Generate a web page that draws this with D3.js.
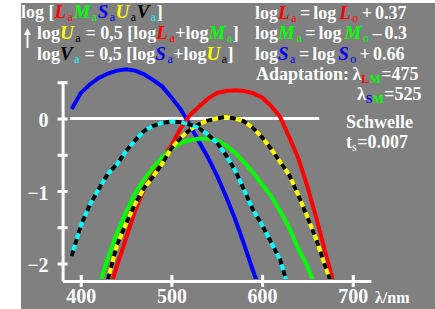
<!DOCTYPE html>
<html>
<head>
<meta charset="utf-8">
<script src="https://cdn.jsdelivr.net/npm/d3@7"></script>
<style>
  body { margin: 0; background: #fff; }
  svg { display: block; font-family: "Liberation Serif", "Times New Roman", serif; font-weight: bold; }
</style>
</head>
<body>
<div id="chart"></div>
<script>
// Wavelengths (nm) and log sensitivities
const wavelengths = [390,400,410,420,430,440,450,460,470,480,490,500,510,520,530,540,550,560,570,580,590,600,610,620,630,640,650,660,670,680];
const logL = [null,null,null,null,-2.44,-2.03,-1.65,-1.27,-0.97,-0.75,-0.56,-0.37,-0.14,0.04,0.16,0.27,0.35,0.38,0.39,0.38,0.35,0.29,0.17,0.02,-0.26,-0.55,-0.94,-1.38,-1.86,-2.33];
const logM = [null,null,null,-2.32,-1.92,-1.58,-1.29,-1.03,-0.84,-0.68,-0.53,-0.42,-0.34,-0.30,-0.28,-0.28,-0.30,-0.37,-0.47,-0.60,-0.75,-0.91,-1.07,-1.28,-1.51,-1.80,-2.04,-2.35,null,null];
const logS = [0.13,0.35,0.47,0.56,0.62,0.66,0.68,0.66,0.61,0.53,0.44,0.29,0.13,-0.08,-0.31,-0.53,-0.78,-1.07,-1.38,-1.73,-2.10,-2.45,null,null,null,null,null,null,null,null];
const logU = [null,null,null,null,-2.22,-1.74,-1.45,-1.18,-0.96,-0.80,-0.62,-0.41,-0.27,-0.16,-0.08,-0.03,0.00,0.02,0.00,-0.04,-0.13,-0.26,-0.42,-0.60,-0.78,-1.06,-1.36,-1.68,-2.05,-2.40];
const logV = [-1.90,-1.48,-1.19,-0.97,-0.76,-0.63,-0.45,-0.30,-0.17,-0.10,-0.06,-0.04,-0.05,-0.08,-0.13,-0.22,-0.33,-0.50,-0.71,-0.98,-1.26,-1.47,-1.71,-1.95,-2.38,null,null,null,null,null];

const xTicks = [400, 500, 600, 700];
const yTicks = [-2, -1.5, -1, -0.5, 0, 0.5];
const yLabels = [-2, -1, 0];

const width = 435, height = 309;

const svg = d3.select('#chart')
    .append('svg')
    .attr('width', width)
    .attr('height', height);

// grey panel
svg.append('rect')
    .attr('x', 21).attr('y', 3)
    .attr('width', width - 21).attr('height', height - 3)
    .attr('fill', '#808080');

const x = d3.scaleLinear().domain([380, 720]).range([62.6, 370.9]);
const y = d3.scaleLinear().domain([-2.24, 0.52]).range([280.9, 80.8]);

svg.append('defs').append('clipPath').attr('id', 'plot')
    .append('rect').attr('x', 62).attr('y', 60).attr('width', 320).attr('height', 219);

// zero line
svg.append('line')
    .attr('x1', x(388)).attr('x2', x(663))
    .attr('y1', y(0)).attr('y2', y(0))
    .attr('stroke', '#fff').attr('stroke-width', 3);

// axes
const xAxis = svg.append('g')
    .attr('transform', `translate(0,${y(-2.24)})`)
    .call(d3.axisBottom(x).tickValues(xTicks).tickSize(6).tickSizeOuter(0).tickFormat(d3.format('d')));
xAxis.selectAll('.tick line').attr('y1', -6).attr('y2', 6);
xAxis.selectAll('.tick text').attr('y', 22).attr('dy', 0);

const yAxis = svg.append('g')
    .attr('transform', `translate(${x(380)},0)`)
    .call(d3.axisLeft(y).tickValues(yTicks).tickSize(5).tickSizeOuter(0)
        .tickFormat(d => yLabels.includes(d) ? (d < 0 ? '\u2212' + Math.abs(d) : d) : ''));
yAxis.selectAll('.tick line').attr('x1', -5).attr('x2', 5);
yAxis.selectAll('.tick text').attr('x', -14).attr('dy', '0.4em');

[xAxis, yAxis].forEach(g => {
    g.select('.domain').attr('stroke', '#fff').attr('stroke-width', 3);
    g.selectAll('.tick line').attr('stroke', '#fff').attr('stroke-width', 3);
    g.selectAll('.tick text')
        .attr('fill', '#fff')
        .style('font-family', '"Liberation Serif", serif')
        .style('font-weight', 'bold')
        .style('font-size', '20px');
});

svg.append('text')
    .attr('x', 375).attr('y', 303)
    .attr('fill', '#fff').style('font-size', '16px')
    .text('\u03bb/nm');

// curves
const line = d3.line()
    .defined(d => d[1] !== null)
    .x(d => x(d[0]))
    .y(d => y(d[1]));

const plot = svg.append('g').attr('clip-path', 'url(#plot)');

function curve(values, color, dashed) {
    const pts = wavelengths.map((w, i) => [w, values[i]]);
    plot.append('path')
        .datum(pts)
        .attr('d', line)
        .attr('fill', 'none')
        .attr('stroke', color)
        .attr('stroke-width', 4);
    if (dashed) {
        plot.append('path')
            .datum(pts)
            .attr('d', line)
            .attr('fill', 'none')
            .attr('stroke', '#000')
            .attr('stroke-width', 4)
            .attr('stroke-dasharray', '6,6');
    }
}

curve(logS, '#0000ff', false);
curve(logL, '#ff0000', false);
curve(logM, '#00ff00', false);
curve(logU, '#ffff00', true);
curve(logV, '#00ffff', true);

// rich text helper: segments of [text, colour, kind]
// kind: 'i' italic capital, 's' subscript, 'sb' bold subscript
function richText(xPos, yPos, segments, spacing) {
    const t = svg.append('text').attr('x', xPos).attr('y', yPos)
        .style('font-size', '18px')
        .style('word-spacing', (spacing || 0) + 'px');
    let shifted = false;
    let prevItalic = false;
    segments.forEach(([txt, color, kind]) => {
        const ts = t.append('tspan').text(txt).attr('fill', color);
        if (kind === 'i') ts.style('font-style', 'italic').style('font-size', '19px');
        if (kind === 's' || kind === 'sb') {
            ts.style('font-size', '12px').style('font-weight', kind === 'sb' ? 'bold' : 'normal');
            if (prevItalic) ts.attr('dx', 1.5);
            if (!shifted) { ts.attr('dy', 3); shifted = true; }
        } else if (shifted) {
            ts.attr('dy', -3).attr('dx', 0.5); shifted = false;
        }
        prevItalic = kind === 'i';
    });
    return t;
}

const W = '#fff', R = '#ff0000', G = '#00ff00', B = '#0000ff', Y = '#ffff00', K = '#000', C = '#00ffff';

richText(21, 18, [['log [', W], ['L', R, 'i'], ['a', R, 's'], ['M', G, 'i'], ['a', G, 's'],
    ['S', B, 'i'], ['a', B, 's'], ['U', Y, 'i'], ['a', K, 's'], ['V', K, 'i'], ['a', C, 's'], [']', W]]);
richText(37, 39, [['log', W], ['U', Y, 'i'], ['a', K, 's'], [' = 0,5 [log', W], ['L', R, 'i'], ['a', R, 's'],
    ['+log', W], ['M', G, 'i'], ['a', G, 's'], [']', W]]);
richText(37, 60, [['log', W], ['V', K, 'i'], ['a', C, 's'], [' = 0,5 [log', W], ['S', B, 'i'], ['a', B, 's'],
    ['+log', W], ['U', Y, 'i'], ['a', K, 's'], [']', W]]);

// up arrow
svg.append('path')
    .attr('d', 'M27.5,48 L27.5,32')
    .attr('stroke', '#fff').attr('stroke-width', 2);
svg.append('path')
    .attr('d', 'M24,35 L27.5,28 L31,35 Z')
    .attr('fill', '#fff');

richText(255, 19, [['log', W], ['L', R, 'i'], ['a', R, 's'], [' = log ', W], ['L', R, 'i'], ['o', R, 's'], [' + 0.37', W]], -1.5);
richText(255, 39, [['log', W], ['M', G, 'i'], ['a', G, 's'], [' = log ', W], ['M', G, 'i'], ['o', G, 's'], [' \u2013 0.3', W]], -1.5);
richText(255, 60, [['log', W], ['S', B, 'i'], ['a', B, 's'], [' = log ', W], ['S', B, 'i'], ['o', B, 's'], [' + 0.66', W]], -1.5);
richText(256, 80, [['Adaptation: \u03bb', W], ['L', R, 'sb'], ['M', G, 'sb'], ['=475', W]], -1);
richText(357, 100, [['\u03bb', W], ['S', B, 'sb'], ['M', G, 'sb'], ['=525', W]]);
richText(346, 128, [['Schwelle', W]]);
richText(346, 148, [['t', W], ['s', W, 's'], ['=0.007', W]]);
</script>
</body>
</html>
